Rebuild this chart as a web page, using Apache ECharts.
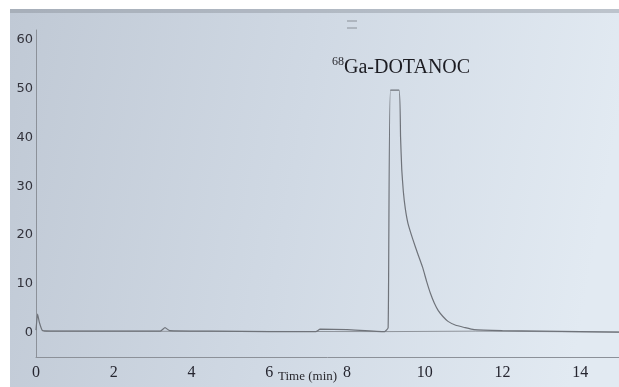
<!DOCTYPE html>
<html><head><meta charset="utf-8">
<script src="https://cdn.jsdelivr.net/npm/echarts@6/dist/echarts.min.js"></script>
<style>html,body{margin:0;padding:0;background:#fff}#c{width:619px;height:387px}</style>
</head><body><div id="c"></div>
<script>
// Time (min) and signal values
const peakTime = [0.0, 0.04, 0.09, 0.17, 0.5, 1.5, 2.5, 3.2, 3.32, 3.44, 4.5, 6.0, 7.2, 7.31, 8.0, 8.97, 9.06, 9.12, 9.34, 9.38, 9.41, 9.45, 9.5, 9.57, 9.7, 9.82, 9.95, 10.05, 10.15, 10.25, 10.35, 10.47, 10.6, 10.8, 11.0, 11.27, 12.0, 13.0, 14.0, 15.0];
const peakSignal = [0.5, 3.8, 2.0, 0.4, 0.3, 0.3, 0.3, 0.3, 1.0, 0.4, 0.3, 0.2, 0.2, 0.7, 0.6, 0.2, 1.0, 49.7, 49.7, 40.0, 33.5, 29.0, 25.5, 22.4, 19.0, 16.2, 13.3, 10.5, 8.0, 6.0, 4.5, 3.3, 2.3, 1.5, 1.1, 0.6, 0.4, 0.3, 0.2, 0.1];
const baseTime = [0.2, 9.0, 11.3, 15.0];
const baseSignal = [0.3, 0.2, 0.3, 0.1];
const xTicks = [0, 2, 4, 6, 8, 10, 12, 14];
const yTicks = [0, 10, 20, 30, 40, 50, 60];
const compoundName = 'Ga-DOTANOC';
const isotope = '68';
const xTitle = 'Time (min)';

const chart = echarts.init(document.getElementById('c'));
chart.setOption({
  backgroundColor: '#ffffff',
  animation: false,
  graphic: [
    { type: 'rect', z: -10, shape: { x: 10, y: 9, width: 609, height: 378 },
      style: { fill: new echarts.graphic.LinearGradient(0, 0, 1, 0.3, [
        { offset: 0, color: '#c0c9d5' }, { offset: 0.5, color: '#d0d9e4' }, { offset: 1, color: '#e2eaf2' }]) } },
    { type: 'rect', z: -9, shape: { x: 10, y: 9, width: 609, height: 4 }, style: { fill: 'rgba(120,125,135,0.35)' } },
    { type: 'line', shape: { x1: 347, y1: 21, x2: 357, y2: 21 }, style: { stroke: '#8a9098', lineWidth: 1 } },
    { type: 'line', shape: { x1: 347, y1: 28, x2: 357, y2: 28 }, style: { stroke: '#8a9098', lineWidth: 1 } },
    { type: 'text', left: 332, top: 56, z: 10,
      style: { text: '{s|' + isotope + '}{m|' + compoundName + '}',
        rich: { s: { fontFamily: 'Liberation Serif', fontSize: 12, fill: '#2a2a30', verticalAlign: 'top', padding: [0, 0, 10, 0] },
                m: { fontFamily: 'Liberation Serif', fontSize: 20, fill: '#1c1c22', verticalAlign: 'bottom' } } } },
    { type: 'text', left: 278, top: 370, z: 10,
      style: { text: xTitle, fontFamily: 'Liberation Serif', fontSize: 13, fill: '#2a2a30' } }
  ],
  grid: { left: 36, right: 0, top: 30, bottom: 30 },
  xAxis: {
    type: 'value', min: 0, max: 15, interval: 1,
    axisLine: { onZero: false, lineStyle: { color: '#8c9199', width: 1 } },
    axisTick: { show: false },
    splitLine: { show: false },
    axisLabel: { showMaxLabel: false, margin: 8, fontFamily: 'Liberation Serif', fontSize: 16, color: '#262630',
      formatter: v => xTicks.indexOf(v) >= 0 ? String(v) : '' }
  },
  yAxis: {
    type: 'value', min: -5, max: 62, interval: 5,
    axisLine: { show: true, onZero: false, lineStyle: { color: '#8c9199', width: 1 } },
    axisTick: { show: false },
    splitLine: { show: false },
    axisLabel: { showMaxLabel: false, margin: 3, fontFamily: 'DejaVu Sans', fontSize: 13, color: '#33333c',
      formatter: v => yTicks.indexOf(v) >= 0 ? String(v) : '' }
  },
  series: [
    { type: 'line', data: baseTime.map((t, i) => [t, baseSignal[i]]), showSymbol: false,
      lineStyle: { color: '#8e939a', width: 1 } },
    { type: 'line', data: peakTime.map((t, i) => [t, peakSignal[i]]), showSymbol: false, smooth: 0.15,
      lineStyle: { color: '#6f737a', width: 1.2 } }
  ]
});
</script></body></html>
